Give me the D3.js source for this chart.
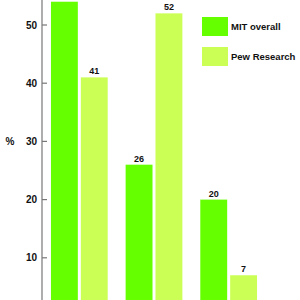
<!DOCTYPE html>
<html>
<head>
<meta charset="utf-8">
<script src="https://cdn.jsdelivr.net/npm/d3@7"></script>
<style>
  body { margin: 0; background: #fff; }
  svg { display: block; font-family: "Liberation Sans", Arial, sans-serif; font-weight: bold; }
</style>
</head>
<body>
<div id="chart"></div>
<script>
const groups = ['A', 'B', 'C'];
const seriesNames = ['MIT overall', 'Pew Research'];
const mitValues = [54, 26, 20];
const pewValues = [41, 52, 7];
const yTicks = [10, 20, 30, 40, 50];
const colors = ['#66ff00', '#ccff55'];

const width = 300, height = 300;

const svg = d3.select('#chart').append('svg')
    .attr('width', width)
    .attr('height', height);

const x0 = d3.scaleBand()
    .domain(groups)
    .range([42, 266])
    .paddingInner(0.24)
    .paddingOuter(0.12);

const x1 = d3.scaleBand()
    .domain(seriesNames)
    .range([0, x0.bandwidth()])
    .paddingInner(0.1);

const y = d3.scaleLinear()
    .domain([0, 50])
    .range([316, 25]);

// axis
const axis = svg.append('g')
    .attr('transform', 'translate(42,0)');
axis.append('line')
    .attr('y1', 0).attr('y2', height)
    .attr('stroke', '#777').attr('stroke-width', 1.2);
const tick = axis.selectAll('.tick')
    .data(yTicks)
    .enter().append('g')
    .attr('class', 'tick')
    .attr('transform', d => `translate(0,${y(d)})`);
tick.append('line')
    .attr('x1', 0).attr('x2', 5)
    .attr('stroke', '#777').attr('stroke-width', 1.2);
tick.append('text')
    .attr('x', -5)
    .attr('dy', '0.35em')
    .attr('text-anchor', 'end')
    .attr('font-size', 10)
    .attr('fill', '#111')
    .text(d => d);

svg.append('text')
    .attr('x', 10)
    .attr('y', y(30))
    .attr('dy', '0.35em')
    .attr('text-anchor', 'middle')
    .attr('font-size', 10)
    .attr('fill', '#111')
    .text('%');

// bars
const rows = groups.map((g, i) => ({ group: g, values: [mitValues[i], pewValues[i]] }));
const grp = svg.selectAll('.grp')
    .data(rows)
    .enter().append('g')
    .attr('class', 'grp')
    .attr('transform', d => `translate(${x0(d.group)},0)`);

const bar = grp.selectAll('.bar')
    .data(d => d.values.map((v, j) => ({ name: seriesNames[j], value: v, color: colors[j] })))
    .enter().append('g')
    .attr('class', 'bar');

bar.append('rect')
    .attr('x', d => x1(d.name))
    .attr('y', d => y(d.value))
    .attr('width', x1.bandwidth())
    .attr('height', d => y(0) - y(d.value))
    .attr('fill', d => d.color);

// labels above the top of the frame are cropped away in the original
bar.filter(d => y(d.value) > 12)
    .append('text')
    .attr('x', d => x1(d.name) + x1.bandwidth() / 2)
    .attr('y', d => y(d.value) - 3)
    .attr('text-anchor', 'middle')
    .attr('font-size', 9)
    .attr('fill', '#111')
    .text(d => d.value);

// legend
const legend = svg.selectAll('.legend')
    .data(seriesNames)
    .enter().append('g')
    .attr('class', 'legend')
    .attr('transform', (d, i) => `translate(202,${17 + i * 30})`);
legend.append('rect')
    .attr('width', 26).attr('height', 19)
    .attr('fill', (d, i) => colors[i]);
legend.append('text')
    .attr('x', 29)
    .attr('y', 10)
    .attr('dy', '0.35em')
    .attr('font-size', 9.5)
    .attr('fill', '#111')
    .text(d => d);
</script>
</body>
</html>
